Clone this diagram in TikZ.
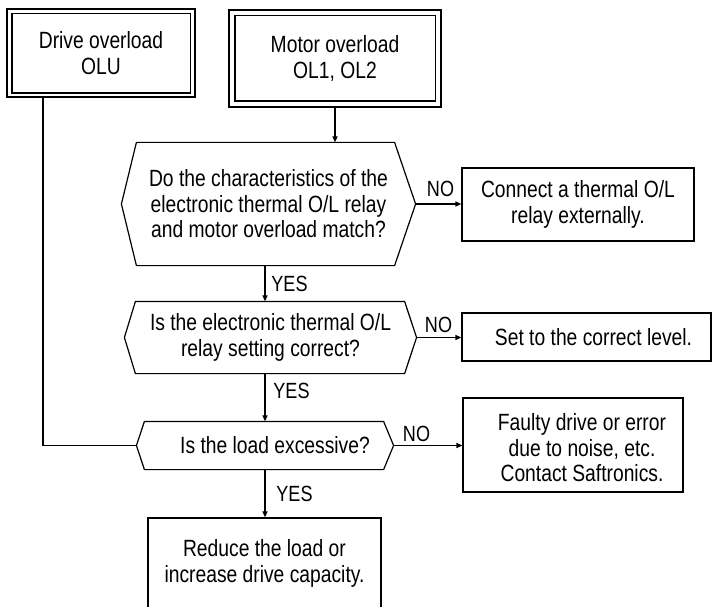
\documentclass[tikz,border=0pt]{standalone}
\usepackage{fontspec}
\setmainfont[FakeStretch=0.82]{Liberation Sans}
\usetikzlibrary{arrows.meta,calc}
\begin{document}
\begin{tikzpicture}[x=1pt,y=-1pt, line width=1.2pt,
  txt/.style={font=\fontsize{23.5}{25.5}\selectfont, align=center, inner sep=0pt},
  lbl/.style={font=\fontsize{22}{24}\selectfont, inner sep=0pt},
  boxn/.style={draw, rectangle, inner sep=0pt, txt},
  hexn/.style={rectangle, inner sep=0pt, txt},
  arr/.style={-{Triangle[length=6pt,width=5pt]}}]
\useasboundingbox (0,0) rectangle (712,607);

% top double boxes
\node[boxn, minimum width=188pt, minimum height=88pt] (lbox) at (101,53) {Drive overload\\OLU};
\draw ([shift={(5.5pt,-5.5pt)}]lbox.north west) rectangle ([shift={(-5.5pt,4.5pt)}]lbox.south east);
\node[boxn, minimum width=212pt, minimum height=97pt] (mbox) at (335,58.5) {Motor overload\\OL1, OL2};
\draw ([shift={(6.5pt,-6.5pt)}]mbox.north west) rectangle ([shift={(-6.5pt,6.5pt)}]mbox.south east);

% decision hexagons
\node[hexn, minimum width=293pt, minimum height=122pt] (h1) at (268.5,204)
  {Do the characteristics of the\\electronic thermal O/L relay\\and motor overload match?};
\draw ([xshift=15pt]h1.north west) -- ([xshift=-21pt]h1.north east) -- (h1.east)
  -- ([xshift=-21pt]h1.south east) -- ([xshift=15pt]h1.south west) -- (h1.west) -- cycle;

\node[hexn, minimum width=291pt, minimum height=71pt] (h2) at (270.5,337.5)
  {Is the electronic thermal O/L\\relay setting correct?};
\draw ([xshift=11pt]h2.north west) -- ([xshift=-12pt]h2.north east) -- (h2.east)
  -- ([xshift=-12pt]h2.south east) -- ([xshift=11pt]h2.south west) -- (h2.west) -- cycle;

\node[hexn, minimum width=256pt, minimum height=47pt] (h3) at (265,445.5) {};
\node[txt] (h3t) at (275,445) {Is the load excessive?};
\draw ([xshift=8pt]h3.north west) -- ([xshift=-10pt]h3.north east) -- (h3.east)
  -- ([xshift=-10pt]h3.south east) -- ([xshift=8pt]h3.south west) -- (h3.west) -- cycle;

% result boxes
\node[boxn, minimum width=232pt, minimum height=73pt] (r1) at (578,204.5)
  {Connect a thermal O/L\\relay externally.};
\node[boxn, minimum width=249pt, minimum height=48pt] (r2) at (586.5,337) {};
\node[txt] (r2t) at (593.5,337.5) {Set to the correct level.};
\node[boxn, minimum width=220pt, minimum height=94pt] (r3) at (573,445) {};
\node[txt] (r3t) at (582,448) {Faulty drive or error\\due to noise, etc.\\Contact Saftronics.};
\node[boxn, minimum width=233pt, minimum height=91pt] (b) at (264.5,563.5)
  {Reduce the load or\\increase drive capacity.};

% connectors
\coordinate (mx) at (265,0);
\coordinate (lc) at (43,445.5);
\draw[arr] (mbox.south) -- (mbox.south |- h1.north);
\draw[arr] (h1.east) -- (h1.east -| r1.west);
\draw[arr] (h1.south -| mx) -- (h2.north -| mx);
\draw[arr] (h2.east) -- (h2.east -| r2.west);
\draw[arr] (h2.south -| mx) -- (h3.north -| mx);
\draw[arr] (h3.east) -- (h3.east -| r3.west);
\draw[arr] (h3.south -| mx) -- (b.north -| mx);
\draw (lbox.south -| lc) -- (lc) -- (h3.west);

% labels
\node[lbl] (no1) at (440.5,188.5) {NO};
\node[lbl] (no2) at (438.5,324.5) {NO};
\node[lbl] (no3) at (416.5,434) {NO};
\node[lbl] (yes1) at (289.5,284) {YES};
\node[lbl] (yes2) at (291.5,391) {YES};
\node[lbl] (yes3) at (294.5,493.5) {YES};
\end{tikzpicture}
\end{document}
